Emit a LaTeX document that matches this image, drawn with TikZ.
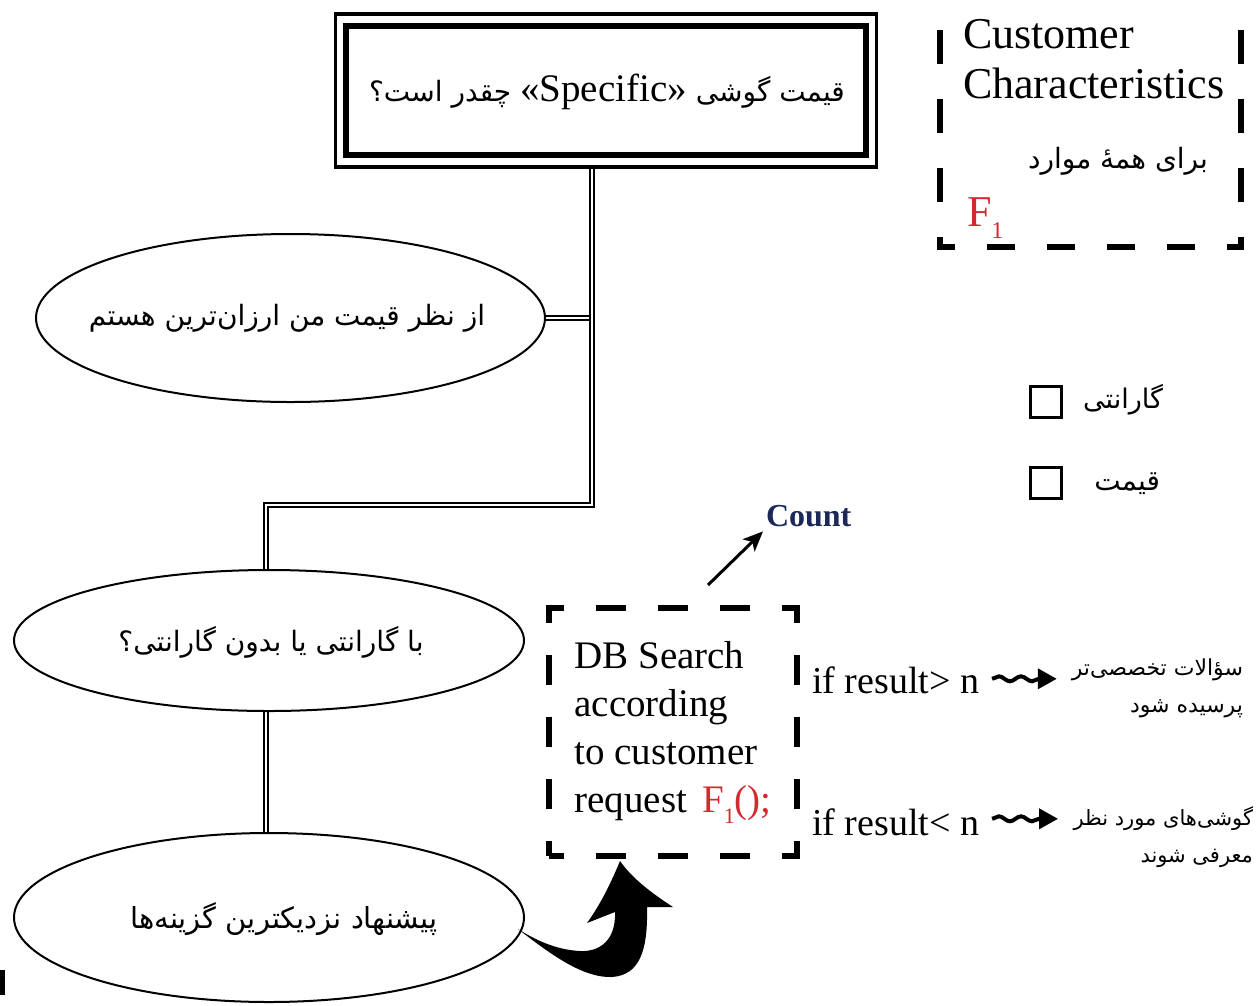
\documentclass[tikz,border=0pt]{standalone}
\usepackage{fontspec}
\setmainfont{Liberation Serif}
\newfontfamily\fa[Script=Arabic]{DejaVu Sans}
\TeXXeTstate=1
\usetikzlibrary{shapes.geometric, arrows.meta, decorations.pathmorphing, calc}
\definecolor{fred}{HTML}{D42A2F}
\definecolor{navy}{HTML}{1B2859}
\pgfdeclarelayer{bg}
\pgfsetlayers{bg,main}
\newcommand{\fasz}[1]{\fontsize{#1}{#1}\fa}
\begin{document}
\begin{tikzpicture}[x=1pt,y=-1pt,
  ell/.style={draw, ellipse, line width=2pt, inner sep=0pt},
  dbl/.style={double, double distance=2.6pt, line width=1.3pt},
  lab/.style={inner sep=0pt, outer sep=0pt},
  cbd/.style={line width=6.5pt},
  snk/.style={line width=4pt, decorate, decoration={snake, amplitude=2.5pt, segment length=22pt, post length=17pt}, -{Triangle[length=19pt, width=20pt]}},
  chk/.style={draw, line width=2.5pt, minimum size=31pt, inner sep=0pt},
  ]
\useasboundingbox (0,0) rectangle (1258,1005);

% top question box
\node[draw, line width=3.5pt, minimum width=541pt, minimum height=153pt, inner sep=0pt] (qo) at (606,90.5) {};
\node[draw, line width=5.5pt, minimum width=520pt, minimum height=129pt, inner sep=0pt] (q) at (606,90.5) {};
\node[lab, font=\fasz{28}] (qt) at (607,92)
  {\beginR قیمت گوشی \beginL{\rmfamily\fontsize{39}{39}\selectfont «Specific»}\endL{} چقدر است؟\endR};

% ellipses
\node[ell, minimum width=509pt, minimum height=168pt] (e1) at (290.5,318) {};
\node[ell, minimum width=510pt, minimum height=141pt] (e2) at (269,640.5) {};
\node[ell, minimum width=510pt, minimum height=169pt] (e3) at (269,917.5) {};
\node[lab, font=\fasz{28}] (t1) at (287,318) {\beginR از نظر قیمت من ارزان‌ترین هستم\endR};
\node[lab, font=\fasz{28}] (t2) at (271,642) {\beginR با گارانتی یا بدون گارانتی؟\endR};
\node[lab, font=\fasz{29}] (t3) at (284,919) {\beginR پیشنهاد نزدیکترین گزینه‌ها\endR};

\coordinate (j1) at (592,505);
\coordinate (j2) at (266,505);
\begin{pgfonlayer}{bg}
\draw[dbl] (e1.east) -- (e1.east -| j1);
\draw[dbl] (qo.south -| j1) -- (j1) -- (j2) -- (j2 |- e2.north);
\draw[dbl] (j2 |- e2.south) -- (j2 |- e3.north);
\end{pgfonlayer}

% customer characteristics box
\node[lab, minimum width=301pt, minimum height=219pt] (cb) at (1090.5,137.5) {};
\draw[cbd, dash pattern=on 34pt off 35pt, dash phase=21pt] ($(cb.south west)+(0,3)$) -- (cb.north west);
\draw[cbd, dash pattern=on 34pt off 35pt, dash phase=21pt] ($(cb.south east)+(0,3)$) -- (cb.north east);
\draw[cbd, dash pattern=on 28pt off 32pt, dash phase=10pt] ($(cb.south west)+(-3,0)$) -- ($(cb.south east)+(3,0)$);
\node[lab, anchor=base west, font=\fontsize{44}{44}\selectfont] (c1) at (963,48) {Customer};
\node[lab, anchor=base west, font=\fontsize{44}{44}\selectfont] (c2) at (963,98) {Characteristics};
\node[lab, anchor=base east, font=\fasz{28}] (pa) at (1208,168) {\beginR برای همهٔ موارد\endR};
\node[lab, anchor=base west, text=fred, font=\fontsize{44}{44}\selectfont] (f1) at (967,226) {F\raisebox{-12pt}{\fontsize{24}{24}\selectfont 1}};

% check boxes
\node[chk] (k1) at (1046,402) {};
\node[chk] (k2) at (1046,483) {};
\node[lab, anchor=base east, font=\fasz{27}] (l1) at (1163,408) {\beginR گارانتی\endR};
\node[lab, anchor=base east, font=\fasz{28}] (l2) at (1160,490) {\beginR قیمت\endR};

% DB search box
\node[draw, line width=6pt, dash pattern=on 30pt off 32pt, dash phase=15pt, line join=miter,
      minimum width=248pt, minimum height=248pt, inner sep=0pt, align=left,
      font=\fontsize{39}{48}\selectfont] (db) at (673,732)
  {DB Search\\according\\to customer\\request\hspace{15pt}\textcolor{fred}{F\raisebox{-11pt}{\fontsize{22}{22}\selectfont 1}();}};

% count
\node[lab, anchor=base west, text=navy, font=\bfseries\fontsize{32}{32}\selectfont] (cnt) at (766,526) {Count};
\coordinate (cs) at (708,585);
\draw[line width=3pt, -{Stealth[length=20pt, width=17pt, inset=5pt]}] (cs) -- ($(cnt.south west)+(-3,5)$);

% conditions
\node[lab, anchor=base west, font=\fontsize{38}{38}\selectfont] (ig) at (812,693) {if result> n};
\node[lab, anchor=base west, font=\fontsize{38}{38}\selectfont] (il) at (812,835) {if result< n};
\node[lab, anchor=base east, font=\fasz{22}] (r1a) at (1243,675) {\beginR سؤالات تخصصی‌تر\endR};
\node[lab, anchor=base east, font=\fasz{22}] (r1b) at (1243,712) {\beginR پرسیده شود\endR};
\node[lab, anchor=base east, font=\fasz{21}] (r2a) at (1253,825) {\beginR گوشی‌های مورد نظر\endR};
\node[lab, anchor=base east, font=\fasz{21}] (r2b) at (1253,862) {\beginR معرفی شوند\endR};
\draw[snk] ([xshift=13pt, yshift=1pt]ig.east) -- ([xshift=-15pt, yshift=1pt]ig.east -| r1a.west);
\draw[snk] ([xshift=13pt, yshift=3pt]il.east) -- ([yshift=3pt]il.east -| 1058,0);

% fat curved arrow from e3 to db
\fill (518,929) .. controls (555,958) and (585,978) .. (612,977)
  .. controls (640,975) and (648,950) .. (647,907)
  -- (673,907)
  .. controls (650,892) and (632,878) .. (620,861)
  .. controls (610,885) and (600,905) .. (587,923)
  -- (615,912)
  .. controls (616,940) and (600,952) .. (580,951)
  .. controls (560,950) and (540,943) .. (518,929) -- cycle;

% small mark bottom-left
\fill (0,970) rectangle (5,995);
\end{tikzpicture}
\end{document}
